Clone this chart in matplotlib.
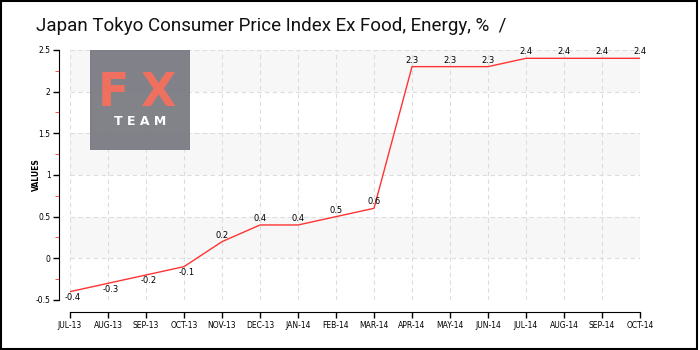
import matplotlib
matplotlib.use('Agg')
import matplotlib.pyplot as plt
from matplotlib.patches import Rectangle
from matplotlib.ticker import MultipleLocator

months = ['JUL-13', 'AUG-13', 'SEP-13', 'OCT-13', 'NOV-13', 'DEC-13', 'JAN-14', 'FEB-14',
          'MAR-14', 'APR-14', 'MAY-14', 'JUN-14', 'JUL-14', 'AUG-14', 'SEP-14', 'OCT-14']
values = [-0.4, -0.3, -0.2, -0.1, 0.2, 0.4, 0.4, 0.5, 0.6, 2.3, 2.3, 2.3, 2.4, 2.4, 2.4, 2.4]
y_ticks = [-0.5, 0, 0.5, 1, 1.5, 2, 2.5]
y_labels = ['-0.5', '0', '0.5', '1', '1.5', '2', '2.5']
band_starts = [0, 1, 2]

fig = plt.figure(figsize=(7, 3.5), dpi=100)
ax = fig.add_axes([0.1, 0.1429, 0.8143, 0.7143])

x = list(range(len(months)))

# alternate light bands
for lo in band_starts:
    ax.axhspan(lo, lo + 0.5, color='#f7f7f7', zorder=0, lw=0)

ax.grid(True, color='#dddddd', linestyle=(0, (4, 3)), linewidth=0.8, zorder=1)
ax.set_axisbelow(True)

ax.plot(x, values, color='#ff3333', linewidth=1, zorder=3)
for xi, v in zip(x, values):
    if v < 0:
        ax.annotate(f'{v:g}', (xi, v), xytext=(2, -1), textcoords='offset points',
                    ha='center', va='top', fontsize=6, zorder=4)
    else:
        ax.annotate(f'{v:g}', (xi, v), xytext=(0, 1.5), textcoords='offset points',
                    ha='center', va='bottom', fontsize=6, zorder=4)

ax.set_xlim(0, len(months) - 1)
ax.set_ylim(-0.5, 2.5)
ax.set_xticks(x)
ax.set_xticklabels(months)
ax.set_yticks(y_ticks)
ax.set_yticklabels(y_labels)
ax.yaxis.set_minor_locator(MultipleLocator(0.25))
ax.tick_params(axis='y', which='minor', length=3, color='#ff3333')
ax.tick_params(axis='both', which='major', length=4, width=1, color='black', pad=2,
               labelsize=5.5)

ax.spines['top'].set_visible(False)
ax.spines['right'].set_visible(False)
ax.spines['left'].set_position(('outward', 8))
ax.spines['bottom'].set_position(('outward', 9))
fig.text(36 / 700, 1 - 175 / 350, 'VALUES', fontsize=5.5, rotation=90,
         ha='center', va='center', fontweight='bold')

# logo
logo = fig.add_axes([90 / 700, 1 - 150 / 350, 100 / 700, 100 / 350])
logo.set_xlim(0, 1)
logo.set_ylim(0, 1)
logo.axis('off')
logo.add_patch(Rectangle((0, 0), 1, 1, color='#7b7b83', alpha=0.95))
logo.text(0.23, 0.56, 'F', color='#f07060', fontsize=33, ha='center', va='center',
          fontweight='bold')
logo.text(0.68, 0.56, 'X', color='#f07060', fontsize=33, ha='center', va='center',
          fontweight='bold')
logo.text(0.5, 0.285, 'T E A M', color='white', fontsize=9, ha='center', va='center',
          fontweight='bold')

fig.text(36 / 700, 1 - 31 / 350, 'Japan Tokyo Consumer Price Index Ex Food, Energy, %  /',
         fontsize=13.5, va='baseline', ha='left', color='#111111',
         fontfamily=['Roboto', 'DejaVu Sans'])

fig.patches.append(Rectangle((0.001, 0.004), 0.995, 0.994, transform=fig.transFigure,
                             fill=False, edgecolor='black', linewidth=1.5))

fig.savefig('out.png', dpi=100)
